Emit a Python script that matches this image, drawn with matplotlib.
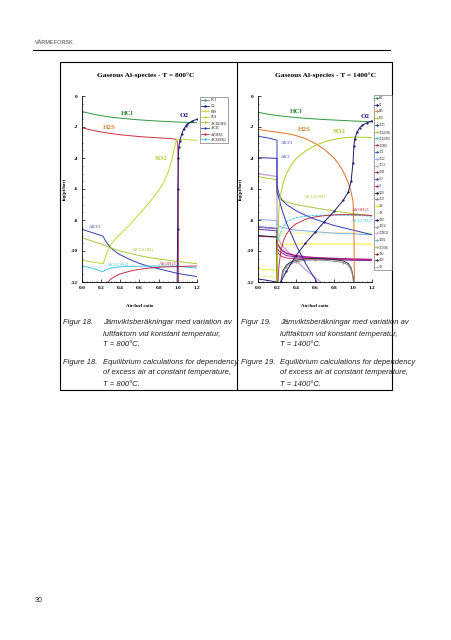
import matplotlib
matplotlib.use("Agg")
import matplotlib.pyplot as plt
from matplotlib.lines import Line2D
from matplotlib.patches import Rectangle
from matplotlib.ticker import MultipleLocator

# ---------------- data: T = 800 C ----------------
hcl8_x = [0, 0.1, 0.2, 0.3, 0.4, 0.5, 0.6, 0.7, 0.8, 0.9, 1.0, 1.1, 1.2]
hcl8_y = [-1.0, -1.15, -1.27, -1.36, -1.43, -1.49, -1.54, -1.58, -1.62, -1.65, -1.68, -1.70, -1.72]
h2s8_x = [0, 0.1, 0.2, 0.3, 0.4, 0.5, 0.6, 0.7, 0.8, 0.9, 0.95, 0.98, 0.995, 1.0, 1.005, 1.006]
h2s8_y = [-2.05, -2.2, -2.32, -2.42, -2.5, -2.56, -2.62, -2.66, -2.7, -2.74, -2.76, -2.8, -2.95, -3.3, -5.0, -12.5]
o28_x = [0.99, 0.998, 1.0, 1.005, 1.01, 1.02, 1.04, 1.06, 1.08, 1.1, 1.15, 1.2]
o28_y = [-14.0, -8.6, -6.0, -4.0, -3.3, -2.9, -2.45, -2.15, -1.95, -1.82, -1.62, -1.5]
so28_x = [0, 0.1, 0.2, 0.22, 0.24, 0.26, 0.3, 0.35, 0.4, 0.5, 0.6, 0.7, 0.8, 0.85, 0.9, 0.93, 0.96, 0.98, 1.0, 1.05, 1.1, 1.2]
so28_y = [-10.6, -10.7, -10.8, -10.82, -10.5, -10.1, -9.6, -9.2, -8.9, -8.3, -7.6, -6.9, -6.1, -5.6, -4.9, -4.3, -3.5, -2.95, -2.78, -2.8, -2.82, -2.86]
alcl38_x = [0, 0.05, 0.1, 0.15, 0.2, 0.22, 0.25, 0.3, 0.35, 0.4, 0.5, 0.6, 0.7, 0.8, 0.9, 1.0, 1.1, 1.2]
alcl38_y = [-8.6, -8.7, -8.8, -8.9, -9.0, -9.05, -9.4, -9.8, -10.05, -10.25, -10.55, -10.8, -11.0, -11.15, -11.3, -11.45, -11.55, -11.65]
alcl2oh8_x = [0, 0.1, 0.2, 0.3, 0.4, 0.5, 0.6, 0.7, 0.8, 0.9, 1.0, 1.1, 1.2]
alcl2oh8_y = [-9.15, -9.35, -9.55, -9.8, -10.0, -10.15, -10.3, -10.42, -10.52, -10.6, -10.68, -10.75, -10.82]
alcloh28_x = [0, 0.1, 0.2, 0.22, 0.25, 0.3, 0.4, 0.5, 0.6, 0.8, 1.0, 1.1, 1.2]
alcloh28_y = [-10.95, -11.1, -11.3, -11.32, -11.2, -11.1, -11.02, -11.0, -10.98, -10.97, -10.97, -11.05, -11.1]
aloh38_x = [0.27, 0.3, 0.35, 0.4, 0.5, 0.6, 0.7, 0.8, 0.9, 1.0, 1.1, 1.2]
aloh38_y = [-12.0, -11.82, -11.62, -11.48, -11.3, -11.18, -11.1, -11.05, -11.02, -11.0, -10.98, -10.97]

# ---------------- data: T = 1400 C ----------------
hcl14_x = [0, 0.1, 0.2, 0.3, 0.4, 0.5, 0.6, 0.7, 0.8, 0.9, 1.0, 1.1, 1.2]
hcl14_y = [-1.05, -1.17, -1.26, -1.33, -1.39, -1.44, -1.48, -1.52, -1.55, -1.58, -1.61, -1.64, -1.67]
h2s14_x = [0, 0.1, 0.2, 0.3, 0.4, 0.5, 0.6, 0.7, 0.8, 0.85, 0.9, 0.95, 0.98, 1.0, 1.01, 1.015]
h2s14_y = [-2.15, -2.25, -2.33, -2.42, -2.55, -2.75, -3.05, -3.45, -4.0, -4.4, -4.9, -5.6, -6.2, -6.8, -8.5, -12.5]
so214_x = [0.2, 0.21, 0.22, 0.24, 0.27, 0.3, 0.35, 0.4, 0.5, 0.6, 0.7, 0.8, 0.9, 1.0, 1.1, 1.2]
so214_y = [-12.5, -9.0, -7.3, -6.3, -5.5, -5.0, -4.45, -4.05, -3.55, -3.2, -2.95, -2.8, -2.7, -2.65, -2.66, -2.68]
o214_x = [0.24, 0.3, 0.4, 0.5, 0.6, 0.7, 0.8, 0.9, 0.95, 0.98, 1.0, 1.01, 1.02, 1.04, 1.07, 1.1, 1.15, 1.2]
o214_y = [-12.0, -11.3, -10.3, -9.5, -8.8, -8.1, -7.45, -6.7, -6.2, -5.5, -4.3, -3.2, -2.75, -2.35, -2.05, -1.88, -1.72, -1.6]
alcl314_x = [0, 0.05, 0.1, 0.15, 0.2, 0.2, 0.22, 0.25, 0.3, 0.4, 0.5, 0.6, 0.7, 0.8, 0.9, 1.0, 1.1, 1.2]
alcl314_y = [-2.6, -2.65, -2.7, -2.77, -2.85, -5.8, -6.3, -6.7, -7.0, -7.4, -7.7, -7.95, -8.15, -8.35, -8.5, -8.65, -8.8, -8.95]
alcl14_x = [0, 0.1, 0.2, 0.2, 0.22, 0.25, 0.3, 0.35, 0.4, 0.45, 0.5, 0.55, 0.6, 0.65]
alcl14_y = [-3.98, -4.0, -4.02, -6.2, -6.6, -7.3, -8.2, -8.9, -9.6, -10.2, -10.8, -11.3, -11.8, -12.3]
alcl2oh14_x = [0, 0.1, 0.2, 0.2, 0.22, 0.25, 0.3, 0.4, 0.5, 0.6, 0.7, 0.8, 0.9, 1.0, 1.1, 1.2]
alcl2oh14_y = [-5.2, -5.3, -5.4, -6.3, -6.5, -6.7, -6.85, -7.0, -7.12, -7.22, -7.32, -7.42, -7.5, -7.58, -7.65, -7.72]
alcloh214_x = [0, 0.1, 0.2, 0.2, 0.22, 0.25, 0.3, 0.4, 0.5, 0.6, 0.8, 1.0, 1.2]
alcloh214_y = [-8.45, -8.5, -8.55, -9.3, -9.2, -8.6, -8.1, -7.85, -7.75, -7.7, -7.68, -7.7, -7.75]
aloh314_x = [0.21, 0.22, 0.24, 0.27, 0.3, 0.35, 0.4, 0.5, 0.6, 0.7, 0.8, 0.9, 1.0, 1.1, 1.2]
aloh314_y = [-12.2, -11.0, -10.0, -9.3, -8.9, -8.5, -8.25, -7.95, -7.8, -7.72, -7.67, -7.65, -7.65, -7.68, -7.72]
yela14_x = [0, 0.1, 0.2, 0.2, 0.22, 0.4, 0.6, 0.8, 1.0, 1.2]
yela14_y = [-11.15, -11.2, -11.25, -9.7, -9.6, -9.55, -9.55, -9.55, -9.55, -9.56]
yelb14_x = [0, 0.1, 0.2, 0.2, 0.22, 0.4, 0.6, 0.8, 1.0, 1.2]
yelb14_y = [-11.6, -11.65, -11.7, -9.0, -8.9, -8.85, -8.83, -8.83, -8.83, -8.85]
mag14_x = [0, 0.1, 0.2, 0.2, 0.22, 0.25, 0.3, 0.4, 0.5, 0.6, 0.8, 1.0, 1.2]
mag14_y = [-8.45, -8.5, -8.55, -9.5, -9.7, -9.95, -10.15, -10.3, -10.38, -10.43, -10.48, -10.52, -10.55]
pur14_x = [0, 0.2, 0.2, 0.22, 0.3, 0.5, 0.8, 1.0, 1.2]
pur14_y = [-8.6, -8.7, -9.8, -10.0, -10.3, -10.45, -10.55, -10.6, -10.62]
pink14_x = [0, 0.2, 0.2, 0.22, 0.25, 0.3, 0.4, 0.6, 0.8, 1.0, 1.2]
pink14_y = [-9.05, -9.1, -10.0, -10.2, -10.35, -10.45, -10.5, -10.53, -10.55, -10.57, -10.58]
blk14_x = [0, 0.1, 0.2, 0.2]
blk14_y = [-9.0, -9.05, -9.1, -12.5]
arch14_x = [0.24, 0.26, 0.3, 0.35, 0.4, 0.5, 0.6, 0.7, 0.8, 0.9, 0.95, 0.98, 1.0, 1.01]
arch14_y = [-12.0, -11.3, -10.9, -10.7, -10.6, -10.5, -10.48, -10.5, -10.55, -10.65, -10.8, -11.1, -11.6, -12.2]
arch2_14_y = [-12.2, -11.4, -11.0, -10.8, -10.7, -10.6, -10.58, -10.6, -10.65, -10.75, -10.9, -11.2, -11.7, -12.4]
lav14_x = [0, 0.1, 0.2, 0.2, 0.22, 0.25, 0.3, 0.4, 0.5, 0.6, 0.7, 0.8]
lav14_y = [-5.0, -5.1, -5.2, -9.0, -9.3, -9.6, -9.95, -10.6, -11.2, -11.7, -12.2, -12.7]
lblu14_x = [0, 0.2, 0.2, 0.22, 0.3, 0.4, 0.6, 0.8, 1.0, 1.2]
lblu14_y = [-7.95, -8.05, -8.3, -8.4, -8.55, -8.65, -8.75, -8.85, -8.9, -8.95]
navy14_x = [0, 0.1, 0.2]
navy14_y = [-11.8, -11.9, -12.0]

y_ticks = [0, -2, -4, -6, -8, -10, -12]
x_ticks = [0.0, 0.2, 0.4, 0.6, 0.8, 1.0, 1.2]

legend8_names = ["HCl", "O2", "H2S", "SO2", "AlCl2(OH)", "AlCl3", "Al(OH)3", "AlCl(OH)2"]
legend8_colors = ["#6080a0", "#1a1a70", "#d8d040", "#b8d830", "#a8c838", "#3040b0", "#c03050", "#40c8e0"]
legend14_names = ["HCl", "O2", "H2S", "SO2", "AlCl3", "AlCl2(OH)", "AlCl(OH)2", "Al(OH)3",
                  "AlCl", "AlCl2", "AlOCl", "AlOH", "AlO", "Al", "Al2O", "AlO2", "AlH",
                  "AlS", "AlHO", "Al2Cl6", "AlOHCl2", "Al2O2", "AlO(OH)", "AlS2", "Al2S", "AlF"]
legend14_colors = ["#2a9a3a", "#1a1a70", "#e08030", "#b8d830", "#3040b0", "#a8c838", "#40c8e0", "#c03050",
                   "#5050d0", "#80b0f0", "#d0a0e0", "#b0208a", "#7030a0", "#d02070", "#202020", "#808080",
                   "#f0f020", "#f0f090", "#202080", "#a0a0a0", "#e0a0e0", "#60c0c0", "#c0c040", "#903030",
                   "#404040", "#c0c0c0"]

W, H = 452, 640
fig = plt.figure(figsize=(W / 100, H / 100), dpi=100)
fig.patch.set_facecolor("white")


def fx(p):
    return p / W


def fy(p):
    return 1 - p / H


SERIF = ["Liberation Serif", "DejaVu Serif"]
SANS = ["Liberation Sans", "DejaVu Sans"]

# page elements
fig.text(fx(35), fy(42), "VÄRMEFORSK", fontsize=4, color="#444444", family=SANS, va="center")
fig.add_artist(Line2D([fx(33), fx(390)], [fy(50), fy(50)], color="black", lw=0.8))
fig.add_artist(Rectangle((fx(60), fy(390)), fx(392) - fx(60), (390 - 62) / H,
                         fill=False, edgecolor="black", lw=0.8))
fig.add_artist(Line2D([fx(237), fx(237)], [fy(62), fy(390)], color="black", lw=0.8))
fig.text(fx(35), fy(601), "30", fontsize=5, color="#222222", family=SANS, va="center")


def style_axes(ax):
    ax.set_xlim(0, 1.2)
    ax.set_ylim(-12, 0)
    ax.set_xticks(x_ticks)
    ax.set_yticks(y_ticks)
    ax.set_xticklabels([f"{v:.1f}" for v in x_ticks])
    ax.set_yticklabels([f"{v}" for v in y_ticks])
    ax.xaxis.set_minor_locator(MultipleLocator(0.05))
    ax.yaxis.set_minor_locator(MultipleLocator(0.5))
    for s in ["top", "right"]:
        ax.spines[s].set_visible(False)
    for s in ["left", "bottom"]:
        ax.spines[s].set_linewidth(0.6)
    ax.tick_params(which="major", direction="in", length=2, width=0.5, pad=3)
    ax.tick_params(which="minor", direction="in", length=1, width=0.4)
    for lab in ax.get_xticklabels() + ax.get_yticklabels():
        lab.set_fontfamily(SERIF)
        lab.set_fontweight("bold")
        lab.set_fontsize(3.8)
    ax.set_xlabel("Air/fuel ratio", fontsize=3.5, fontweight="bold", family=SERIF)
    ax.set_ylabel("log(pi/bar)", fontsize=3.5, fontweight="bold", family=SERIF)
    ax.xaxis.set_label_coords(0.5, -0.12)
    ax.yaxis.set_label_coords(-0.13, 0.5)
    ax.set_facecolor("white")


LW = 0.7
AX_TOP, AX_BOT = 96, 282

# ---------------- left chart ----------------
ax1 = fig.add_axes([fx(82), fy(AX_BOT), fx(197) - fx(82), (AX_BOT - AX_TOP) / H])
ax1.plot(hcl8_x, hcl8_y, color="#2a9a3a", lw=LW)
ax1.plot(h2s8_x, h2s8_y, color="#d03040", lw=LW)
ax1.plot(so28_x, so28_y, color="#c0d830", lw=LW)
ax1.plot(alcl38_x, alcl38_y, color="#3040b0", lw=LW)
ax1.plot(alcl2oh8_x, alcl2oh8_y, color="#a8c838", lw=LW)
ax1.plot(alcloh28_x, alcloh28_y, color="#40c8e0", lw=LW)
ax1.plot(aloh38_x, aloh38_y, color="#c03050", lw=LW)
ax1.plot(o28_x, o28_y, color="#1a1a70", lw=LW, marker=".", markersize=1.2)
style_axes(ax1)

lab_kw = dict(family=SERIF, ha="center", va="center")
ax1.text(0.47, -1.1, "HCl", color="#2a8a2a", fontsize=5, fontweight="bold", **lab_kw)
ax1.text(0.28, -2.05, "H2S", color="#e08030", fontsize=5, fontweight="bold", **lab_kw)
ax1.text(1.07, -1.25, "O2", color="#1a1a80", fontsize=5, fontweight="bold", **lab_kw)
ax1.text(0.82, -4.0, "SO2", color="#b0c820", fontsize=5, fontweight="bold", **lab_kw)
ax1.text(0.13, -8.45, "AlCl3", color="#3040b0", fontsize=3.5, **lab_kw)
ax1.text(0.64, -9.9, "AlCl2(OH)", color="#a8c030", fontsize=3.5, **lab_kw)
ax1.text(0.38, -10.85, "AlCl(OH)2", color="#40c0e0", fontsize=3.5, **lab_kw)
ax1.text(0.9, -10.75, "Al(OH)3", color="#c02040", fontsize=3.5, **lab_kw)

fig.text(fx(146), fy(75), "Gaseous Al-species - T = 800°C", fontsize=5.3, fontweight="bold",
         family=SERIF, ha="center", va="center")

h8 = [Line2D([], [], color=c, lw=0.6, marker="+", markersize=1.5) for c in legend8_colors]
leg1 = fig.legend(h8, legend8_names, loc="upper left", bbox_to_anchor=(fx(200), fy(97)),
                  fontsize=2.5, frameon=True, fancybox=False, handlelength=2.2,
                  labelspacing=0.45, borderpad=0.4, handletextpad=0.5, borderaxespad=0)
leg1.get_frame().set_edgecolor("#333333")
leg1.get_frame().set_linewidth(0.4)
for t in leg1.get_texts():
    t.set_fontfamily(SERIF)

# ---------------- right chart ----------------
ax2 = fig.add_axes([fx(258), fy(AX_BOT), fx(372) - fx(258), (AX_BOT - AX_TOP) / H])
ax2.plot(yelb14_x, yelb14_y, color="#f0f090", lw=LW)
ax2.plot(yela14_x, yela14_y, color="#f0f020", lw=LW)
ax2.plot(lav14_x, lav14_y, color="#d0a0e0", lw=1.0)
ax2.plot(lblu14_x, lblu14_y, color="#80b0f0", lw=LW)
ax2.plot(pink14_x, pink14_y, color="#d02070", lw=LW)
ax2.plot(pur14_x, pur14_y, color="#7030a0", lw=LW)
ax2.plot(mag14_x, mag14_y, color="#b0208a", lw=1.1)
ax2.plot(blk14_x, blk14_y, color="#202020", lw=LW)
ax2.plot(arch14_x, arch14_y, color="#303030", lw=LW)
ax2.plot(arch14_x, arch2_14_y, color="#909090", lw=LW, marker=".", markersize=1.0)
ax2.plot(navy14_x, navy14_y, color="#202080", lw=LW)
ax2.plot(alcl2oh14_x, alcl2oh14_y, color="#a8c838", lw=LW)
ax2.plot(alcloh214_x, alcloh214_y, color="#40c8e0", lw=LW, ls=(0, (3, 1)))
ax2.plot(aloh314_x, aloh314_y, color="#c03050", lw=LW)
ax2.plot(alcl14_x, alcl14_y, color="#3030a0", lw=LW)
ax2.plot(alcl314_x, alcl314_y, color="#3040c0", lw=LW)
ax2.plot(hcl14_x, hcl14_y, color="#2a9a3a", lw=LW)
ax2.plot(h2s14_x, h2s14_y, color="#e07020", lw=LW)
ax2.plot(so214_x, so214_y, color="#a8d020", lw=LW)
ax2.plot(o214_x, o214_y, color="#1a1a70", lw=LW, marker=".", markersize=1.2)
style_axes(ax2)

ax2.text(0.4, -1.0, "HCl", color="#2a8a2a", fontsize=5, fontweight="bold", **lab_kw)
ax2.text(0.49, -2.15, "H2S", color="#e08030", fontsize=5, fontweight="bold", **lab_kw)
ax2.text(0.85, -2.3, "SO2", color="#b0c820", fontsize=5, fontweight="bold", **lab_kw)
ax2.text(1.13, -1.35, "O2", color="#1a1a80", fontsize=5, fontweight="bold", **lab_kw)
ax2.text(0.3, -3.0, "AlCl3", color="#3040b0", fontsize=3.5, **lab_kw)
ax2.text(0.29, -3.96, "AlCl", color="#3040b0", fontsize=3.5, **lab_kw)
ax2.text(0.6, -6.45, "AlCl2(OH)", color="#b0c030", fontsize=3.5, **lab_kw)
ax2.text(1.08, -7.3, "Al(OH)3", color="#c02040", fontsize=3.5, **lab_kw)
ax2.text(1.1, -8.0, "AlCl(OH)2", color="#40c0e0", fontsize=3.5, **lab_kw)

fig.text(fx(326), fy(75), "Gaseous Al-species - T = 1400°C", fontsize=5.3, fontweight="bold",
         family=SERIF, ha="center", va="center")

h14 = [Line2D([], [], color=c, lw=0.6, marker="+", markersize=1.2) for c in legend14_colors]
leg2 = fig.legend(h14, legend14_names, loc="upper left", bbox_to_anchor=(fx(374), fy(95)),
                  fontsize=1.9, frameon=True, fancybox=False, handlelength=1.3,
                  labelspacing=1.05, borderpad=0.3, handletextpad=0.4, borderaxespad=0)
leg2.get_frame().set_edgecolor("#333333")
leg2.get_frame().set_linewidth(0.4)
for t in leg2.get_texts():
    t.set_fontfamily(SERIF)

# ---------------- captions ----------------
cap_kw = dict(fontsize=5.5, style="italic", family=SANS, color="#222222", va="center")
left_caps = [(323, "Figur 18.", "Jämviktsberäkningar med variation av"),
             (334, None, "luftfaktorn vid konstant temperatur,"),
             (345, None, "T = 800°C."),
             (362, "Figure 18.", "Equilibrium calculations for dependency"),
             (373, None, "of excess air at constant temperature,"),
             (384, None, "T = 800°C.")]
right_caps = [(323, "Figur 19.", "Jämviktsberäkningar med variation av"),
              (334, None, "luftfaktorn vid konstant temperatur,"),
              (345, None, "T = 1400°C."),
              (362, "Figure 19.", "Equilibrium calculations for dependency"),
              (373, None, "of excess air at constant temperature,"),
              (384, None, "T = 1400°C.")]
for (yy, a, b) in left_caps:
    if a:
        fig.text(fx(63), fy(yy), a, **cap_kw)
    fig.text(fx(103), fy(yy), b, **cap_kw)
for (yy, a, b) in right_caps:
    if a:
        fig.text(fx(241), fy(yy), a, **cap_kw)
    fig.text(fx(280), fy(yy), b, **cap_kw)

fig.savefig("out.png", dpi=100, facecolor="white")
